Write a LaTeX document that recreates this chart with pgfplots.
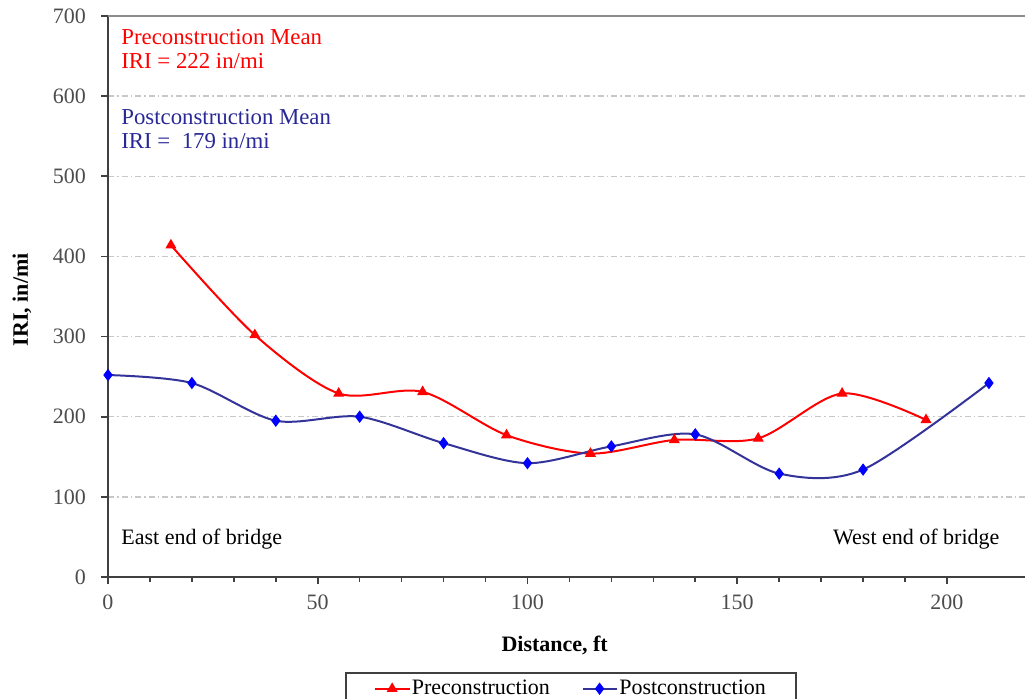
\documentclass[border=0pt]{standalone}
\usepackage{fontspec}
\setmainfont{Liberation Serif}
\usepackage{pgfplots}
\pgfplotsset{compat=1.18}
\usetikzlibrary{calc}
\definecolor{prered}{RGB}{255,0,0}
\definecolor{postline}{RGB}{51,51,153}
\definecolor{postmark}{RGB}{0,0,255}
\definecolor{posttext}{RGB}{40,40,150}
\definecolor{gridgray}{RGB}{200,200,200}
\begin{document}
\begin{tikzpicture}
\begin{axis}[
  scale only axis, width=461.45pt, height=280.5pt,
  xmin=0, xmax=220, ymin=0, ymax=700,
  axis lines*=left,
  axis line style={line width=1.2pt, color=black!75},
  xtick={0,50,...,200}, minor x tick num=4,
  ytick={0,100,...,700},
  tick align=outside, major tick length=3.5pt, minor tick length=2.5pt,
  tick style={black!75, line width=0.8pt},
  ymajorgrids,
  grid style={gridgray, line width=0.7pt, dash pattern=on 3pt off 1.5pt on 0.8pt off 1.5pt},
  ticklabel style={font=\fontsize{11}{13}\selectfont, color=black!70},
  /pgf/number format/assume math mode=true,
  xticklabel style={yshift=-2pt},
  yticklabel style={xshift=-4pt},
  xlabel={\textbf{Distance, ft}},
  ylabel={\textbf{IRI, in/mi}},
  label style={font=\fontsize{11}{13}\selectfont},
  xlabel style={at={(axis description cs:0.484,-0.1212)}, anchor=center},
  ylabel style={at={(axis description cs:-0.0932,0.494)}, anchor=center},
  legend columns=2,
  legend style={at={(axis description cs:0.5015,-0.1693)}, anchor=north,
    draw=black!75, line width=1pt, font=\fontsize{11}{13}\selectfont,
    inner xsep=14pt, inner ysep=2pt,
    nodes={inner xsep=0.8pt, inner ysep=1.5pt},
    /tikz/every even column/.append style={column sep=15pt}},
  clip=false,
]
\addplot[prered, line width=1pt, smooth, mark=triangle*,
  mark options={fill=prered, draw=prered, mark size=2.7pt, line width=0.5pt}]
  coordinates {(15,414) (35,302) (55,229) (75,231) (95,177) (115,154) (135,171) (155,173) (175,229) (195,196)};
\addlegendentry{Preconstruction}
\addplot[postline, line width=1pt, smooth, mark=diamond*,
  mark options={fill=postmark, draw=postmark, mark size=2.7pt, line width=0.5pt}]
  coordinates {(0,252) (20,242) (40,195) (60,200) (80,167) (100,142) (120,163) (140,178) (160,129) (180,134) (210,242)};
\addlegendentry{Postconstruction}
\draw[black!45, line width=1pt] (rel axis cs:0,1) -- (rel axis cs:1,1);
\coordinate (O) at (rel axis cs:0,0);
\node[inner sep=0pt, anchor=base west, text=prered, font=\fontsize{11.4}{13}\selectfont] at (axis cs:3.1,665) {Preconstruction Mean};
\node[inner sep=0pt, anchor=base west, text=prered, font=\fontsize{11.4}{13}\selectfont] at (axis cs:3.1,635) {IRI = 222 in/mi};
\node[inner sep=0pt, anchor=base west, text=posttext, font=\fontsize{11.4}{13}\selectfont] at (axis cs:3.1,565) {Postconstruction Mean};
\node[inner sep=0pt, anchor=base west, text=posttext, font=\fontsize{11.4}{13}\selectfont] at (axis cs:3.1,535) {IRI = \ 179 in/mi};
\node[inner sep=0pt, anchor=base west, font=\fontsize{11}{13}\selectfont] at (axis cs:3.1,40) {East end of bridge};
\node[inner sep=0pt, anchor=base east, font=\fontsize{11}{13}\selectfont] at (axis cs:212.6,40) {West end of bridge};
\end{axis}
\pgfresetboundingbox
\path[use as bounding box] ($(O)+(-54pt,-61pt)$) rectangle ($(O)+(458.5pt,288.5pt)$);
\end{tikzpicture}
\end{document}
